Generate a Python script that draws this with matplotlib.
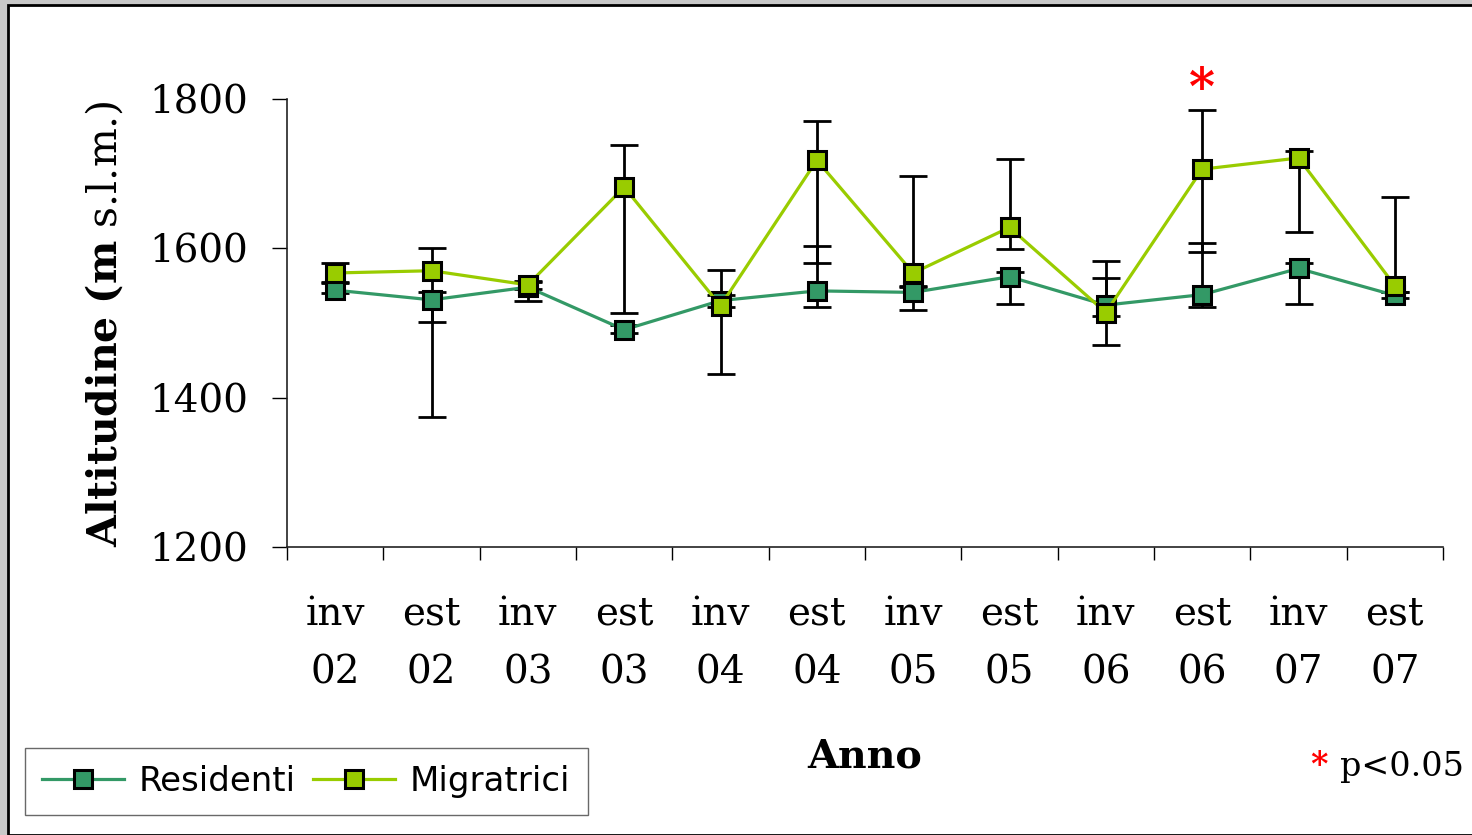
import numpy as np
import matplotlib
matplotlib.use('Agg')
import matplotlib.pyplot as plt
from matplotlib.patches import Rectangle

# data
periodi = ['inv\n02', 'est\n02', 'inv\n03', 'est\n03', 'inv\n04', 'est\n04',
           'inv\n05', 'est\n05', 'inv\n06', 'est\n06', 'inv\n07', 'est\n07']

residenti = [1544, 1531, 1548, 1491, 1530, 1543, 1541, 1562, 1524, 1538, 1573, 1537]
res_min = [1540, 1374, 1529, 1486, 1522, 1522, 1517, 1525, 1509, 1522, 1525, 1533]
res_max = [1553, 1541, 1555, 1497, 1537, 1603, 1548, 1568, 1583, 1607, 1580, 1541]

migratrici = [1567, 1570, 1551, 1682, 1523, 1718, 1567, 1628, 1514, 1706, 1721, 1550]
mig_min = [1555, 1501, 1545, 1514, 1432, 1580, 1549, 1599, 1470, 1595, 1622, 1541]
mig_max = [1580, 1601, 1556, 1738, 1571, 1770, 1697, 1720, 1560, 1785, 1731, 1669]

signif = [9]  # est 06

plt.rcParams['font.family'] = 'DejaVu Serif'
plt.rcParams['mathtext.fontset'] = 'dejavuserif'

W, H = 1472, 835
fig = plt.figure(figsize=(W / 100, H / 100), dpi=100)
fig.patch.set_facecolor('#c8c8c8')
fig.patches.append(Rectangle((8 / W, 0), 1.2, 1 - 5 / H, transform=fig.transFigure,
                             facecolor='white', edgecolor='black', linewidth=2, zorder=-10))

ax = fig.add_axes([287 / W, 1 - 547 / H, (1443 - 287) / W, (547 - 99) / H])
ax.set_facecolor('none')

x = np.arange(len(periodi))
res = np.array(residenti)
mig = np.array(migratrici)
res_err = [res - np.array(res_min), np.array(res_max) - res]
mig_err = [mig - np.array(mig_min), np.array(mig_max) - mig]

ax.errorbar(x, res, yerr=res_err, fmt='none', ecolor='black', elinewidth=2,
            capsize=10, capthick=2, zorder=2)
ax.errorbar(x, mig, yerr=mig_err, fmt='none', ecolor='black', elinewidth=2,
            capsize=10, capthick=2, zorder=2)

ax.plot(x, res, color='#339966', lw=2.3, marker='s', markersize=13.5,
        markerfacecolor='#339966', markeredgecolor='black', markeredgewidth=2.2,
        label='Residenti', zorder=3)
ax.plot(x, mig, color='#99cc00', lw=2.3, marker='s', markersize=13.5,
        markerfacecolor='#99cc00', markeredgecolor='black', markeredgewidth=2.2,
        label='Migratrici', zorder=4)

for i in signif:
    ax.text(x[i], mig_max[i] - 7, '*', color='red', fontsize=36, fontweight='bold',
            ha='center', va='bottom', clip_on=False)

ax.set_xlim(-0.5, len(periodi) - 0.5)
ax.set_ylim(1200, 1800)
ax.set_yticks([1200, 1400, 1600, 1800])
ax.tick_params(axis='y', length=11, width=1, pad=17, labelsize=28)

ax.set_xticks(np.arange(-0.5, len(periodi), 1.0))
ax.set_xticklabels([])
ax.tick_params(axis='x', which='major', length=9, width=1)
ax.set_xticks(x, minor=True)
ax.set_xticklabels(periodi, minor=True, fontsize=28, linespacing=1.75)
ax.tick_params(axis='x', which='minor', length=0, pad=35)

for s in ['top', 'right']:
    ax.spines[s].set_visible(False)
for s in ['left', 'bottom']:
    ax.spines[s].set_linewidth(1.2)
    ax.spines[s].set_color('#222222')

fig.text(117 / W, 1 - 547 / H, r'$\mathbf{Altitudine\ (m}$ s.l.m.)', fontsize=29.5,
         rotation=90, rotation_mode='anchor', ha='left', va='baseline')
fig.text(865 / W, 1 - 757 / H, 'Anno', fontsize=28.5, fontweight='bold',
         ha='center', va='center')
fig.text(1328 / W, 1 - 765 / H, '*', color='red', fontsize=24, fontweight='bold',
         ha='right', va='center')
fig.text(1340 / W, 1 - 776 / H, 'p<0.05', fontsize=24, ha='left', va='baseline')

fig.legend(loc='lower left', bbox_to_anchor=(25 / W, 1 - 815 / H), ncol=2,
           prop={'family': 'DejaVu Sans', 'size': 24.5}, frameon=True, fancybox=False,
           edgecolor='#444444', handlelength=2.4, handletextpad=0.45,
           columnspacing=0.5, borderpad=0.5, borderaxespad=0)

fig.savefig('out.png', dpi=100)
